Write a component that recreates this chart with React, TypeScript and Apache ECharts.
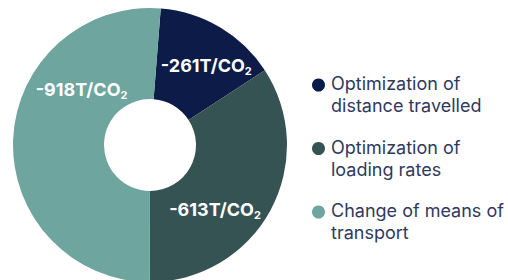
import React, { useEffect, useRef } from "react";
import * as echarts from "echarts";

const categories = [
  "Optimization of\ndistance travelled",
  "Optimization of\nloading rates",
  "Change of means of\ntransport",
];
const values = [261, 613, 918];
const labels = ["-261T/CO", "-613T/CO", "-918T/CO"];
const colors = ["#0c1b48", "#365354", "#6ea59f"];
const labelOffsets = [
  [8, 2],
  [-18, 19],
  [26, -52],
];

export default function App() {
  const ref = useRef<HTMLDivElement>(null);
  useEffect(() => {
    if (!ref.current) return;
    const chart = echarts.init(ref.current, undefined, { renderer: "svg" });
    const legendTop = 85;
    const legendStep = 63.5;
    const legendGraphics = categories.flatMap((c, i) => [
      {
        type: "circle",
        shape: { cx: 318.5, cy: legendTop + i * legendStep, r: 6.5 },
        style: { fill: colors[i] },
        silent: true,
      },
      {
        type: "text",
        x: 331,
        y: legendTop + i * legendStep - 12.5,
        style: {
          text: c,
          fontFamily: "Inter",
          fontSize: 18,
          lineHeight: 22,
          fill: "#2e3a5e",
          verticalAlign: "top",
          align: "left",
        },
        silent: true,
      },
    ]);
    chart.setOption({
      animation: false,
      color: colors,
      graphic: legendGraphics,
      series: [
        {
          type: "pie",
          center: [150, 145],
          radius: [46, 137],
          startAngle: 85.5,
          clockwise: true,
          silent: true,
          itemStyle: { borderWidth: 0 },
          label: {
            show: true,
            position: "inside",
            color: "#ffffff",
            fontFamily: "Inter",
            rich: {
              a: { fontSize: 18, fontWeight: 700, color: "#fff", fontFamily: "Inter", lineHeight: 22 },
              s: {
                fontSize: 11,
                fontWeight: 700,
                color: "#fff",
                fontFamily: "Inter",
                lineHeight: 22,
                verticalAlign: "bottom",
              },
            },
          },
          labelLine: { show: false },
          data: values.map((v, i) => ({
            value: v,
            name: categories[i],
            label: {
              formatter: `{a|${labels[i]}}{s|2}`,
              offset: labelOffsets[i],
            },
          })),
        },
      ],
    });
    return () => chart.dispose();
  }, []);
  return <div ref={ref} style={{ width: 508, height: 280, position: "absolute", left: 0, top: 0 }} />;
}
